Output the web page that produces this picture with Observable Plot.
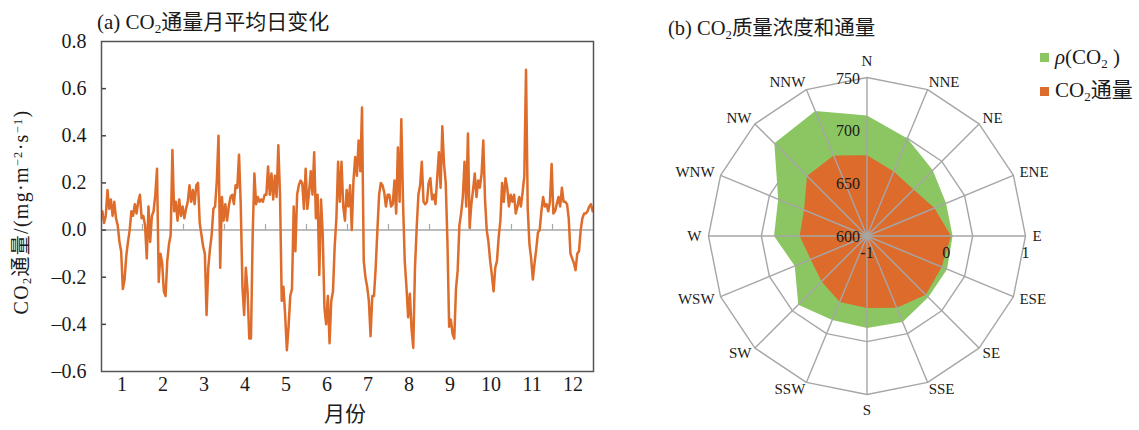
<!DOCTYPE html>
<html><head><meta charset="utf-8">
<script src="https://cdn.jsdelivr.net/npm/d3@7"></script>
<script src="https://cdn.jsdelivr.net/npm/@observablehq/plot@0.6"></script>
<style>
body{margin:0;background:#fff;}
#wrap{position:relative;width:1139px;height:430px;overflow:hidden;font-family:"Liberation Serif","Times New Roman","DejaVu Serif","Noto Sans CJK SC",serif;color:#1a1a1a;}
.abs{position:absolute;white-space:nowrap;line-height:1;}
.abs sub{font-size:0.62em;vertical-align:baseline;position:relative;top:0.28em;}
.abs sup{font-size:0.62em;vertical-align:baseline;position:relative;top:-0.45em;}
#left,#right{position:absolute;top:0;}
#left{left:0;} #right{left:669px;}
.sq{position:absolute;width:9px;height:9px;}
</style></head><body>
<div id="wrap">
  <div id="left"></div>
  <div id="right"></div>
  <div class="abs" style="left:97px;top:12px;font-size:21px;">(a) CO<sub>2</sub>通量月平均日变化</div>
  <div class="abs" style="left:668px;top:18px;font-size:20.5px;">(b) CO<sub>2</sub>质量浓度和通量</div>
  <div class="abs" style="left:21px;top:212px;font-size:20px;letter-spacing:1.3px;transform:translate(-50%,-50%) rotate(-90deg);">CO<sub>2</sub>通量/(mg·m<sup>−2</sup>·s<sup>−1</sup>)</div>
  <div class="abs" style="left:345px;top:414px;font-size:21px;transform:translate(-50%,-50%);">月份</div>
  <div class="sq" style="left:1040px;top:53px;background:#8cc663;"></div>
  <div class="abs" style="left:1055px;top:47px;font-size:21px;"><i>ρ</i>(CO<sub>2</sub> )</div>
  <div class="sq" style="left:1040px;top:87px;background:#dc6b2c;"></div>
  <div class="abs" style="left:1055px;top:80px;font-size:21px;">CO<sub>2</sub>通量</div>
</div>
<script>
// ---- (a) monthly mean diurnal CO2 flux, 24 hourly values per month (mg·m-2·s-1)
const monthLabels = ["1","2","3","4","5","6","7","8","9","10","11","12"];
const m01 = [0.08,0.03,0.06,0.17,0.09,0.13,0.06,0.12,0.05,0.02,-0.05,-0.09,-0.25,-0.21,-0.11,-0.05,0.00,0.08,0.06,0.11,0.07,0.12,0.15,0.05];
const m02 = [0.06,0.02,-0.12,0.10,-0.05,0.06,0.08,0.15,0.26,-0.22,-0.10,-0.14,-0.26,-0.28,-0.13,-0.06,-0.02,0.34,0.08,0.12,0.04,0.13,0.06,0.10];
const m03 = [0.05,0.09,0.12,0.19,0.12,0.17,0.11,0.19,0.20,0.03,-0.02,-0.07,-0.10,-0.36,-0.16,-0.08,-0.02,0.09,0.10,0.21,0.40,-0.16,0.14,0.04];
const m04 = [0.11,0.04,0.10,0.14,0.15,0.11,0.19,0.18,0.32,0.11,-0.24,-0.36,-0.16,-0.26,-0.46,-0.46,-0.02,0.24,0.11,0.14,0.12,0.13,0.12,0.15];
const m05 = [0.15,0.27,0.15,0.24,0.13,0.23,0.14,0.36,0.15,-0.30,-0.24,-0.36,-0.51,-0.41,-0.28,-0.25,0.10,-0.09,0.15,0.19,0.21,0.20,0.09,0.26];
const m06 = [0.09,0.16,0.25,0.15,0.33,0.05,0.15,-0.19,0.13,-0.02,-0.33,-0.40,-0.28,-0.48,-0.30,-0.26,-0.07,0.05,0.29,0.12,0.29,0.10,0.04,0.17];
const m07 = [0.10,0.19,0.00,0.21,0.31,0.23,0.38,0.25,0.52,-0.13,-0.20,-0.24,-0.30,-0.45,-0.28,-0.28,-0.16,0.00,0.15,0.20,0.19,0.16,0.10,0.15];
const m08 = [0.15,0.10,0.11,0.21,0.07,0.35,0.12,0.47,0.12,-0.13,-0.24,-0.37,-0.27,-0.42,-0.50,-0.16,0.01,0.15,0.19,0.29,0.12,0.11,0.12,0.20];
const m09 = [0.22,0.13,0.15,0.11,0.22,0.33,0.18,0.44,0.28,0.20,-0.05,-0.41,-0.38,-0.44,-0.46,-0.25,-0.17,0.02,0.07,0.14,0.29,0.10,0.41,0.01];
const m10 = [0.11,0.17,0.24,0.14,0.21,0.18,0.24,0.38,0.13,0.00,-0.05,-0.13,-0.19,-0.26,-0.16,-0.13,-0.03,0.04,0.20,0.12,0.22,0.18,0.10,0.15];
const m11 = [0.12,0.15,0.07,0.10,0.14,0.10,0.16,0.23,0.68,0.09,-0.06,-0.12,-0.21,-0.14,-0.08,-0.01,0.00,0.08,0.14,0.10,0.11,0.08,0.12,0.28];
const m12 = [0.07,0.08,0.11,0.14,0.10,0.18,0.12,0.12,0.11,0.05,-0.10,-0.12,-0.14,-0.17,-0.10,-0.09,0.00,0.05,0.07,0.07,0.08,0.10,0.11,0.08];
const yTicks = [-0.6,-0.4,-0.2,0,0.2,0.4,0.6,0.8];

// ---- (b) by wind direction
const directions = ["N","NNE","NE","ENE","E","ESE","SE","SSE","S","SSW","SW","WSW","W","WNW","NW","NNW"];
const rhoCO2  = [714,700,688,681,681,682,682,688,687,686,692,674,688,691,724,728]; // mg/m3
const fluxDir = [0.02,-0.12,-0.17,-0.08,0.06,0.02,0.05,-0.02,-0.09,-0.10,-0.19,-0.23,-0.15,-0.14,0.07,0.10];
const rhoTicks = [600,650,700,750];
const fluxTicks = [-1,0,1];

const FONT = "'Liberation Serif','Times New Roman','DejaVu Serif',serif";

// ---------- build (a)
const months = [m01,m02,m03,m04,m05,m06,m07,m08,m09,m10,m11,m12];
const series = months.flatMap((arr, mi) => arr.map((v, h) => ({t: mi + (h + 0.5) / arr.length, v})));
const fmt = d => d < 0 ? "–" + Math.abs(d).toFixed(1) : d.toFixed(1);

const left = Plot.plot({
  width: 600, height: 430,
  marginLeft: 101, marginRight: 7, marginTop: 41, marginBottom: 59,
  x: {domain: [0, 12]},
  y: {domain: [-0.6, 0.8]},
  style: {fontFamily: FONT, fontSize: "20px", color: "#1a1a1a", background: "transparent", overflow: "visible"},
  marks: [
    Plot.ruleY([0], {stroke: "#a6a6a6", strokeWidth: 1.5}),
    Plot.ruleX(d3.range(1, 12), {y1: 0, y2: 0.024, stroke: "#a6a6a6", strokeWidth: 1.2}),
    Plot.line(series, {x: "t", y: "v", stroke: "#de6c2a", strokeWidth: 2.5, strokeLinejoin: "round"}),
    Plot.ruleY(yTicks.slice(1, -1), {x1: 0, x2: 0.12, stroke: "#404040", strokeWidth: 1.5}),
    Plot.frame({stroke: "#555", strokeWidth: 1.5}),
    Plot.axisY(yTicks, {tickSize: 0, tickPadding: 15, tickFormat: fmt, label: null, fontSize: 20}),
    Plot.axisX(monthLabels.map((d, i) => i + 0.5), {tickSize: 0, tickPadding: 5, tickFormat: (d, i) => monthLabels[i], label: null, fontSize: 20})
  ]
});
document.getElementById("left").appendChild(left);

// ---------- build (b)
const n = directions.length;
const ang = i => i * 2 * Math.PI / n;
const pt = (i, r) => ({x: r * Math.sin(ang(i)), y: r * Math.cos(ang(i))});
const rhoR = v => (v - 600) / 150;
const fluxR = v => (v + 1) / 2;
const rhoPoly = rhoCO2.map((v, i) => pt(i, rhoR(v)));
const fluxPoly = fluxDir.map((v, i) => pt(i, fluxR(v)));
const rings = [1/3, 2/3, 1].flatMap(l => directions.map((d, i) => ({...pt(i, l), ring: l})));
const spokes = directions.map((d, i) => pt(i, 1));
const px = 1 / 158.5;
const labels = directions.map((d, i) => {
  const s = Math.sin(ang(i)), c = Math.cos(ang(i));
  const side = Math.abs(s) < 0.1 ? 0 : Math.sign(s);
  return side === 0
    ? {name: d, side, x: 0, y: c * (1 + 16 * px)}
    : {name: d, side, x: s + side * 7 * s * s * px, y: c * (1 + 7.5 * px)};
});

const right = Plot.plot({
  width: 470, height: 430,
  marginLeft: 39, marginRight: 114, marginTop: 77, marginBottom: 36,
  x: {domain: [-1, 1], axis: null},
  y: {domain: [-1, 1], axis: null},
  style: {fontFamily: FONT, fontSize: "15px", color: "#1a1a1a", background: "transparent", overflow: "visible"},
  marks: [
    Plot.line(rings, {x: "x", y: "y", z: "ring", curve: "linear-closed", stroke: "#a6a6a6", strokeWidth: 1.4}),
    Plot.line(rhoPoly, {x: "x", y: "y", curve: "linear-closed", fill: "#8cc663", stroke: "none"}),
    Plot.line(fluxPoly, {x: "x", y: "y", curve: "linear-closed", fill: "#dc6b2c", stroke: "none"}),
    Plot.link(spokes, {x1: 0, y1: 0, x2: "x", y2: "y", stroke: "#a6a6a6", strokeWidth: 1.4}),
    Plot.dot([0], {x: 0, y: 0, r: 3.5, fill: "#a6a6a6"}),
    Plot.text(labels.filter(d => d.side === 0), {x: "x", y: "y", text: "name", textAnchor: "middle", fontSize: 15}),
    Plot.text(labels.filter(d => d.side > 0), {x: "x", y: "y", text: "name", textAnchor: "start", fontSize: 15}),
    Plot.text(labels.filter(d => d.side < 0), {x: "x", y: "y", text: "name", textAnchor: "end", fontSize: 15}),
    Plot.text(rhoTicks, {x: 0, y: d => rhoR(d), text: d => String(d), textAnchor: "end", dx: -7, dy: 1, fontSize: 16}),
    Plot.text(fluxTicks, {x: d => fluxR(d), y: 0, text: d => String(d), textAnchor: "middle", dy: 17, fontSize: 16})
  ]
});
document.getElementById("right").appendChild(right);
</script>
</body></html>
